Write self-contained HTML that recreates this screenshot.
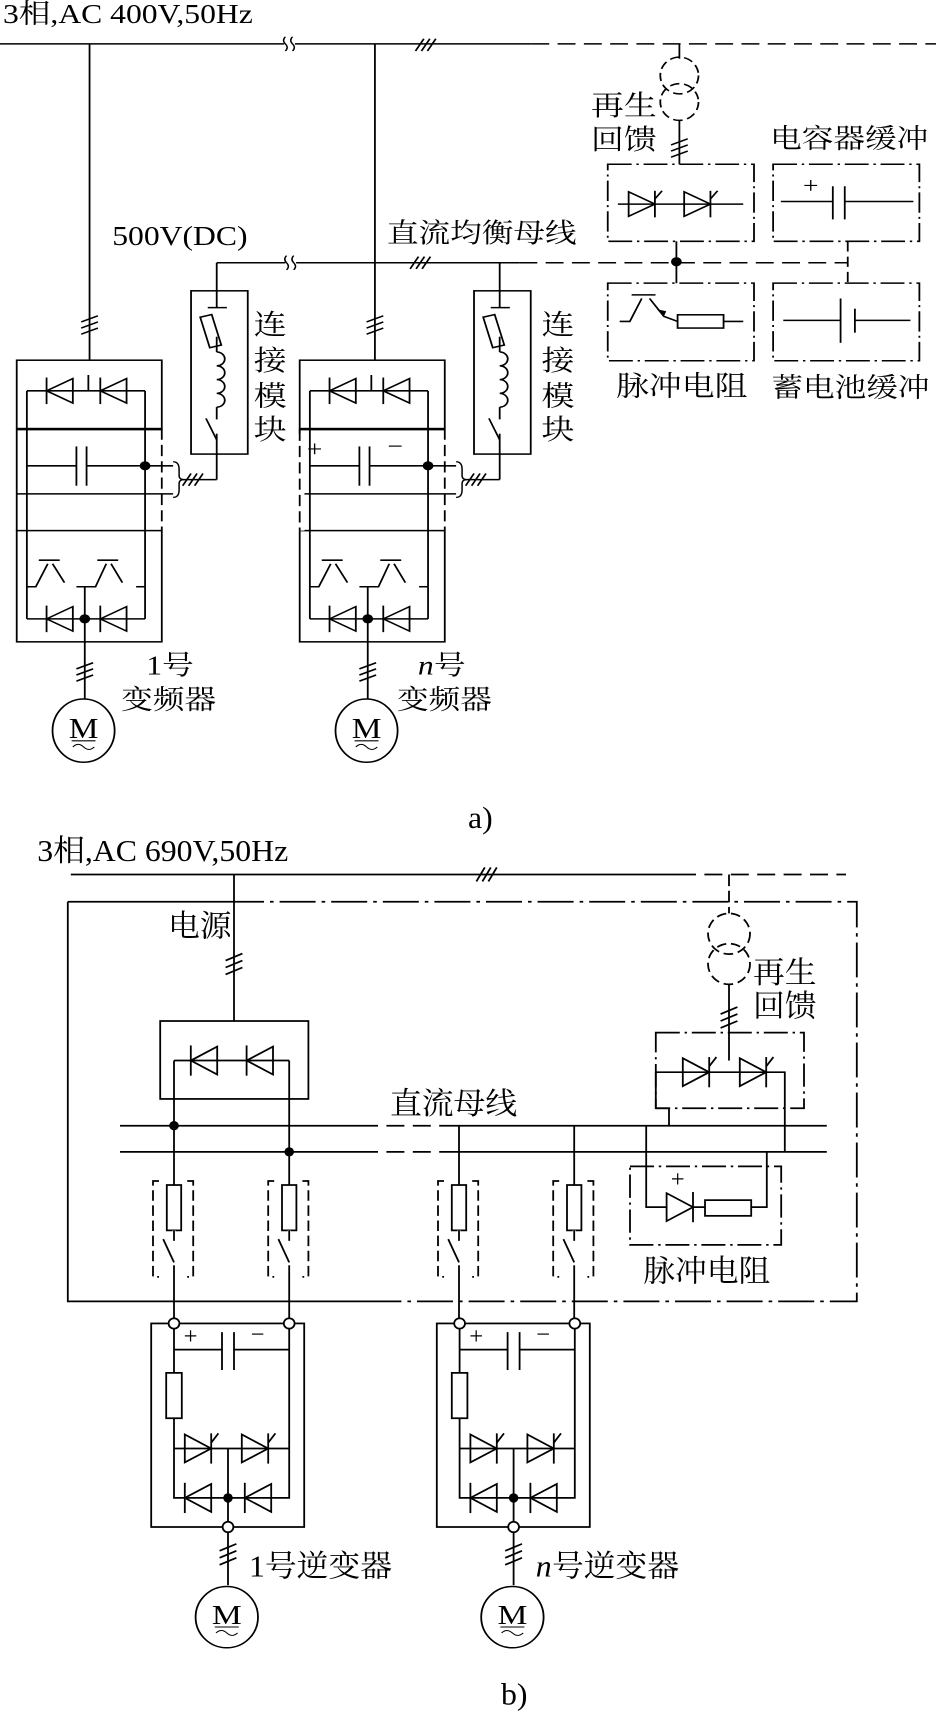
<!DOCTYPE html>
<html><head><meta charset="utf-8"><style>
html,body{margin:0;padding:0;background:#fff}
svg{display:block}
text{font-family:"Liberation Serif","Noto Serif CJK SC","Noto Sans CJK SC",serif;fill:#000}
</style></head><body>
<svg width="936" height="1712" viewBox="0 0 936 1712" xmlns="http://www.w3.org/2000/svg">
<defs>
<g id="dl"><polygon points="-22,0 22,-24 22,24" fill="none" stroke="#000" stroke-width="3"/><line x1="-22" y1="-26" x2="-22" y2="26" stroke="#000" stroke-width="3"/></g>
<g id="dr"><polygon points="22,0 -22,-24 -22,24" fill="none" stroke="#000" stroke-width="3"/><line x1="22" y1="-26" x2="22" y2="26" stroke="#000" stroke-width="3"/></g>
<g id="tr"><use href="#dr"/><line x1="22" y1="-10" x2="34" y2="-26" stroke="#000" stroke-width="3"/></g>
<g id="ts" stroke="#000" stroke-width="3"><line x1="-14" y1="-4" x2="14" y2="-16"/><line x1="-14" y1="8" x2="14" y2="-4"/><line x1="-14" y1="20" x2="14" y2="8"/></g>
<g id="ts2" stroke="#000" stroke-width="3"><line x1="-16" y1="12" x2="-2" y2="-12"/><line x1="-6" y1="12" x2="8" y2="-12"/><line x1="4" y1="12" x2="18" y2="-12"/></g>
<g id="brk"><rect x="-9" y="-14" width="18" height="28" fill="#fff"/><path d="M-7,-14 q-6,7 0,14 q6,7 0,14 M5,-14 q-6,7 0,14 q6,7 0,14" fill="none" stroke="#000" stroke-width="2.5"/></g>
<g id="motor"><ellipse cx="0" cy="0" rx="52" ry="62" fill="#fff" stroke="#000" stroke-width="3"/><text x="0" y="14" font-size="56" text-anchor="middle">M</text><line x1="-20" y1="20" x2="20" y2="20" stroke="#000" stroke-width="2"/><path d="M-18,32 q9,-10 18,0 q9,10 18,0" fill="none" stroke="#000" stroke-width="2"/></g>
<g id="conn" fill="none" stroke="#000" stroke-width="3">
<rect x="320" y="570" width="95" height="320"/>
<line x1="363" y1="515" x2="363" y2="603"/><line x1="348" y1="603" x2="380" y2="603"/>
<rect x="343" y="618" width="20" height="62" transform="rotate(-15 353 649)"/>
<line x1="363" y1="660" x2="363" y2="690"/>
<path d="M363,690 a13,13 0 0 1 0,27 a13,13 0 0 1 0,27 a13,13 0 0 1 0,27 a13,13 0 0 1 0,27"/>
<line x1="363" y1="798" x2="363" y2="822"/>
<line x1="345" y1="820" x2="363" y2="862"/>
<line x1="363" y1="850" x2="363" y2="940"/><line x1="305" y1="940" x2="363" y2="940"/>
<path d="M290,905 q10,0 10,15 v12 q0,8 8,8 q-8,0 -8,8 v12 q0,15 -10,15" stroke-width="2.5"/>
</g>
</defs>

<!-- PART A -->
<g transform="scale(0.5970,0.5102)">
<text x="5" y="45" font-size="53">3相,AC 400V,50Hz</text>
<g stroke="#000" stroke-width="3" fill="none">
<line x1="0" y1="86" x2="890" y2="86"/>
<line x1="890" y1="86" x2="1568" y2="86" stroke-dasharray="30,14"/>
<line x1="150" y1="86" x2="150" y2="706"/>
<line x1="628" y1="86" x2="628" y2="706"/>
<line x1="363" y1="515" x2="870" y2="515"/>
<line x1="870" y1="515" x2="1420" y2="515" stroke-dasharray="30,14"/>
</g>
<use href="#brk" x="485" y="86"/><use href="#brk" x="487" y="515"/>
<use href="#ts2" x="712" y="88"/><use href="#ts2" x="703" y="515"/>
<use href="#ts" x="150" y="635"/><use href="#ts" x="628" y="635"/>
<text x="188" y="480" font-size="53">500V(DC)</text>
<text x="648" y="475" font-size="53">直流均衡母线</text>

<g id="inv">
<g stroke="#000" stroke-width="3" fill="none">
<rect x="28" y="706" width="243" height="134"/>
<rect x="28" y="1040" width="243" height="218"/>
<line x1="28" y1="840" x2="28" y2="1040"/>
<line x1="271" y1="840" x2="271" y2="1040" stroke-dasharray="22,10"/>
<line x1="45" y1="766" x2="243" y2="766"/>
<line x1="45" y1="766" x2="45" y2="1213"/><line x1="243" y1="766" x2="243" y2="1150"/>
<line x1="243" y1="1150" x2="243" y2="1213"/>
<line x1="45" y1="1213" x2="243" y2="1213"/>
<line x1="148" y1="735" x2="148" y2="766"/>
<line x1="28" y1="842" x2="271" y2="842"/>
<line x1="45" y1="913" x2="128" y2="913"/><line x1="145" y1="913" x2="290" y2="913"/>
<line x1="128" y1="875" x2="128" y2="952"/><line x1="145" y1="875" x2="145" y2="952"/>
<line x1="28" y1="968" x2="290" y2="968"/>
<path d="M45,1150 L60,1150 L80,1105 M65,1098 L100,1098 M88,1105 L108,1142"/>
<path d="M128,1150 L160,1150 L178,1105 M163,1098 L198,1098 M186,1105 L205,1142"/>
<line x1="142" y1="1150" x2="142" y2="1370"/>
<line x1="228" y1="1150" x2="243" y2="1150"/>
</g>
<use href="#dl" x="100" y="766"/><use href="#dl" x="190" y="766"/>
<use href="#dl" x="100" y="1213"/><use href="#dl" x="190" y="1213"/>
<circle cx="243" cy="913" r="9"/><circle cx="142" cy="1213" r="9"/>
<use href="#ts" x="142" y="1315"/>
<use href="#motor" x="140" y="1432"/>
<use href="#conn"/>
<use href="#ts2" x="322" y="940"/>
</g>
<text x="245" y="1322" font-size="53">1号</text>
<text x="203" y="1390" font-size="53">变频器</text>
<g transform="translate(474,0)">
<use href="#inv"/>
<rect x="20" y="850" width="16" height="190" fill="#fff"/>
<line x1="28" y1="842" x2="28" y2="1040" stroke="#000" stroke-width="3" stroke-dasharray="22,10"/>
<text x="40" y="895" font-size="46">+</text><text x="175" y="890" font-size="46">−</text>
</g>
<text x="700" y="1322" font-size="53" font-style="italic">n</text><text x="727" y="1322" font-size="53">号</text>
<text x="665" y="1390" font-size="53">变频器</text>
<g font-size="55"><text x="425" y="655">连</text><text x="425" y="725">接</text><text x="425" y="795">模</text><text x="425" y="860">块</text>
<text x="907" y="655">连</text><text x="907" y="725">接</text><text x="907" y="795">模</text><text x="907" y="860">块</text></g>

<g stroke="#000" stroke-width="3" fill="none">
<line x1="1138" y1="86" x2="1138" y2="115"/>
<ellipse cx="1138" cy="148" rx="32" ry="36" stroke-dasharray="16,8"/>
<ellipse cx="1138" cy="200" rx="32" ry="36" stroke-dasharray="16,8"/>
<line x1="1138" y1="236" x2="1138" y2="322"/>
<g stroke-dasharray="40,8,4,8">
<rect x="1018" y="322" width="245" height="151"/>
<rect x="1295" y="322" width="245" height="151"/>
<rect x="1018" y="555" width="245" height="152"/>
<rect x="1295" y="555" width="245" height="152"/>
</g>
<line x1="1035" y1="400" x2="1245" y2="400"/>
<line x1="1308" y1="395" x2="1395" y2="395"/><line x1="1415" y1="395" x2="1530" y2="395"/>
<line x1="1395" y1="365" x2="1395" y2="430"/><line x1="1415" y1="365" x2="1415" y2="430"/>
<line x1="1133" y1="473" x2="1133" y2="555"/>
<line x1="1420" y1="473" x2="1420" y2="555" stroke-dasharray="20,10"/>
<path d="M1038,630 L1055,630 L1075,585 M1058,578 L1098,578 M1088,585 L1112,620 L1135,630"/>
<rect x="1135" y="617" width="77" height="26"/>
<line x1="1212" y1="630" x2="1245" y2="630"/>
<line x1="1312" y1="628" x2="1408" y2="628"/><line x1="1432" y1="628" x2="1525" y2="628"/>
<line x1="1408" y1="585" x2="1408" y2="672"/><line x1="1432" y1="605" x2="1432" y2="652"/>
</g>
<polygon points="1112,620 1100,606 1116,610" fill="#000"/>
<use href="#tr" x="1075" y="400"/><use href="#tr" x="1168" y="400"/>
<use href="#ts" x="1138" y="288"/>
<circle cx="1133" cy="513" r="9"/>
<text x="1345" y="378" font-size="46">+</text>
<text x="990" y="225" font-size="55">再生</text><text x="990" y="292" font-size="55">回馈</text>
<text x="1290" y="290" font-size="53">电容器缓冲</text>
<text x="1032" y="775" font-size="55">脉冲电阻</text>
<text x="1292" y="778" font-size="53">蓄电池缓冲</text>
</g>

<!-- PART B -->
<g transform="translate(0,800) scale(0.600,0.5816)">
<text x="780" y="48" font-size="53">a)</text>
<text x="62" y="105" font-size="53">3相,AC 690V,50Hz</text>
<g stroke="#000" stroke-width="3" fill="none">
<line x1="118" y1="128" x2="1130" y2="128"/>
<line x1="1130" y1="128" x2="1410" y2="128" stroke-dasharray="30,14"/>
<path d="M113,175 H380 M113,175 V862 H650"/>
<path d="M380,175 H1428 V862 H650" stroke-dasharray="60,10,6,10"/>
<line x1="390" y1="128" x2="390" y2="380"/>
<rect x="267" y="380" width="247" height="134"/>
<line x1="290" y1="448" x2="482" y2="448"/>
<line x1="290" y1="448" x2="290" y2="891"/><line x1="482" y1="448" x2="482" y2="891"/>
<line x1="765" y1="560" x2="765" y2="891"/><line x1="957" y1="560" x2="957" y2="891"/>
<path d="M200,560 H600 M760,560 H1378 M200,605 H600 M760,605 H1378"/>
<path d="M600,560 H760 M600,605 H760" stroke-dasharray="30,14"/>
<line x1="1215" y1="128" x2="1215" y2="195" stroke-dasharray="20,8"/>
<circle cx="1215" cy="230" r="35" stroke-dasharray="16,8"/>
<circle cx="1215" cy="282" r="35" stroke-dasharray="16,8"/>
<line x1="1215" y1="317" x2="1215" y2="448"/>
<rect x="1093" y="400" width="247" height="130" stroke-dasharray="40,8,4,8"/>
<path d="M1093,468 H1308 V605 M1093,468 V530 M1093,530 H1115 V560"/>
<rect x="1050" y="630" width="252" height="135" stroke-dasharray="40,8,4,8"/>
<path d="M1077,560 V700 H1110 M1155,700 H1175 M1252,700 H1278 V605"/>
<rect x="1175" y="688" width="77" height="27"/>
</g>
<use href="#ts2" x="810" y="128"/>
<use href="#ts" x="390" y="280"/><use href="#ts" x="1215" y="372"/>
<use href="#dl" x="340" y="448"/><use href="#dl" x="433" y="448"/>
<use href="#tr" x="1160" y="468"/><use href="#tr" x="1255" y="468"/>
<use href="#dr" x="1133" y="700"/>
<circle cx="290" cy="560" r="8"/><circle cx="482" cy="605" r="8"/>
<text x="280" y="235" font-size="53">电源</text>
<text x="650" y="540" font-size="53">直流母线</text>
<text x="1255" y="315" font-size="53">再生</text><text x="1255" y="372" font-size="53">回馈</text>
<text x="1118" y="665" font-size="41">+</text>
<text x="1072" y="828" font-size="53">脉冲电阻</text>

<g id="fs" stroke="#000" stroke-width="3" fill="none">
<path d="M265,655 H255 V820 H265 M312,655 H322 V820 H312" stroke-dasharray="18,8"/>
<rect x="278" y="662" width="24" height="78" fill="#fff"/>
<line x1="290" y1="740" x2="290" y2="800" stroke="#fff" stroke-width="5"/>
<line x1="290" y1="740" x2="290" y2="758"/>
<line x1="272" y1="755" x2="290" y2="795"/>
</g>
<use href="#fs" x="192"/><use href="#fs" x="475"/><use href="#fs" x="667"/>

<g id="mod">
<g stroke="#000" stroke-width="3" fill="none">
<rect x="252" y="900" width="255" height="350"/>
<path d="M290,909 V1200 H482 V909"/>
<path d="M290,945 H370 M390,945 H482 M370,915 V980 M390,915 V980"/>
<rect x="277" y="985" width="26" height="78" fill="#fff"/>
<line x1="290" y1="1115" x2="482" y2="1115"/>
<line x1="380" y1="1115" x2="380" y2="1241"/>
<line x1="380" y1="1259" x2="380" y2="1350"/>
<circle cx="290" cy="900" r="9" fill="#fff"/><circle cx="482" cy="900" r="9" fill="#fff"/>
<circle cx="380" cy="1250" r="9" fill="#fff"/>
</g>
<use href="#tr" x="330" y="1115"/><use href="#tr" x="425" y="1115"/>
<use href="#dl" x="330" y="1200"/><use href="#dl" x="430" y="1200"/>
<circle cx="380" cy="1200" r="8"/>
<text x="306" y="935" font-size="41">+</text><text x="418" y="932" font-size="41">−</text>
<use href="#ts" x="380" y="1295"/>
<use href="#motor" x="378" y="1405" transform="translate(378,1405) scale(1,0.85) translate(-378,-1405)"/>
</g>
<use href="#mod" x="476"/>
<text x="415" y="1335" font-size="53">1号逆变器</text>
<text x="893" y="1335" font-size="53" font-style="italic">n</text><text x="920" y="1335" font-size="53">号逆变器</text>
<text x="835" y="1555" font-size="53">b)</text>
</g>
</svg>
</body></html>
